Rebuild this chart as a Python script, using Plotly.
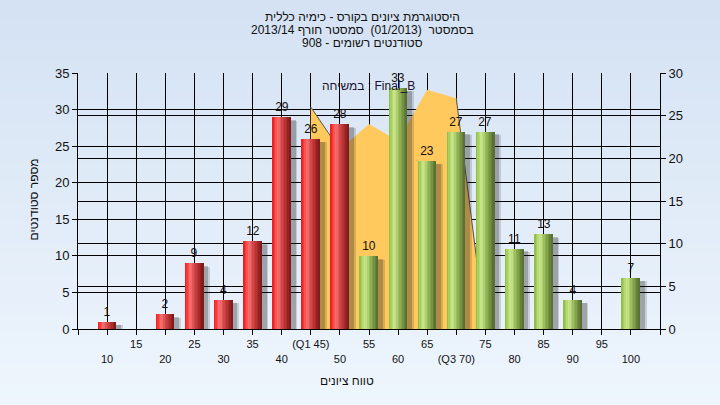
import plotly.graph_objects as go

# ---------------- data ----------------
categories = [10, 15, 20, 25, 30, 35, 40, 45, 50, 55, 60, 65, 70, 75, 80, 85, 90, 95, 100]
counts = [1, 0, 2, 9, 4, 12, 29, 26, 28, 10, 33, 23, 27, 27, 11, 13, 4, 0, 7]
tick_labels = ['10', '15', '20', '25', '30', '35', '40', '(Q1 45)', '50', '55', '60', '65',
               '(Q3 70)', '75', '80', '85', '90', '95', '100']
final_b_x = [45, 50, 55, 60, 65, 70, 75]
final_b_y = [26, 21, 24, 22, 28, 27, 0]
pass_mark = 55

title_lines = ['היסטוגרמת ציונים בקורס - כימיה כללית',
               'בסמסטר  (01/2013)  סמסטר חורף 2013/14',
               'סטודנטים רשומים - 908']
y_title = 'מספר סטודנטים'
x_title = 'טווח ציונים'
legend_text = 'במשיחה : Final_B'

# ---------------- style ----------------
FONT = 'Liberation Sans, Arial, DejaVu Sans, sans-serif'
W = 3.1          # bar width in x units
NSTRIP = 12
ML, MR, MT, MB = 78, 60, 73, 76
FW, FH = 720, 405
PW, PH = FW - ML - MR, FH - MT - MB

red_stops = [(0.0, (222, 28, 34)), (0.12, (255, 52, 52)), (0.32, (246, 118, 118)),
             (0.52, (214, 72, 72)), (0.78, (172, 44, 44)), (1.0, (120, 24, 24))]
green_stops = [(0.0, (138, 182, 68)), (0.12, (166, 206, 92)), (0.32, (204, 232, 146)),
               (0.52, (160, 194, 96)), (0.78, (118, 148, 68)), (1.0, (82, 106, 44))]


def grad(stops, t):
    for (t0, c0), (t1, c1) in zip(stops[:-1], stops[1:]):
        if t0 <= t <= t1:
            f = (t - t0) / (t1 - t0) if t1 > t0 else 0
            c = [round(a + (b - a) * f) for a, b in zip(c0, c1)]
            return 'rgb(%d,%d,%d)' % tuple(c)
    return 'rgb(%d,%d,%d)' % stops[-1][1]


def bar_colors(t):
    return [grad(red_stops, t) if c < pass_mark else grad(green_stops, t) for c in categories]


def px_x(px):
    return (px - ML) / PW


def px_y(py):
    return (FH - MB - py) / PH


fig = go.Figure()

# background gradient (paper)
nb = 40
for i in range(nb):
    f = i / (nb - 1)
    r = round(212 + (238 - 212) * f)
    g = round(226 + (245 - 226) * f)
    b = round(243 + (253 - 243) * f)
    y_top = i * FH / nb
    y_bot = (i + 1) * FH / nb + 1
    fig.add_shape(type='rect', xref='paper', yref='paper', layer='below',
                  x0=px_x(0), x1=px_x(FW), y0=px_y(y_bot), y1=px_y(y_top),
                  line=dict(width=0), fillcolor='rgb(%d,%d,%d)' % (r, g, b))

# Final_B area (right axis)
fig.add_trace(go.Scatter(x=final_b_x, y=final_b_y, mode='lines', fill='tozeroy',
                         fillcolor='#ffc95e', line=dict(color='#ffc95e', width=0.5),
                         yaxis='y', hoverinfo='skip', showlegend=False))
# dark edges on steep drops
ex, ey = [], []
for i in range(len(final_b_x) - 1):
    if final_b_y[i] - final_b_y[i + 1] >= 4:
        ex += [final_b_x[i], final_b_x[i + 1], None]
        ey += [final_b_y[i], final_b_y[i + 1], None]
fig.add_trace(go.Scatter(x=ex, y=ey, mode='lines', line=dict(color='#555555', width=1),
                         yaxis='y', hoverinfo='skip', showlegend=False))

# shadows
for dx, dy, alpha in [(1.15, 0.5, 0.16), (0.85, 0.4, 0.24)]:
    fig.add_trace(go.Bar(x=categories, y=[max(v - dy, 0) if v > 0 else 0 for v in counts],
                         width=W, offset=-W / 2 + dx, yaxis='y2',
                         marker=dict(color='rgba(30,30,30,%.2f)' % alpha, line=dict(width=0)),
                         hoverinfo='skip', showlegend=False))

# base bar with labels
fig.add_trace(go.Bar(x=categories, y=counts, width=W, offset=-W / 2, yaxis='y2',
                     marker=dict(color=bar_colors(0.55), line=dict(width=0)),
                     text=[str(v) if v > 0 else '' for v in counts],
                     textposition='outside', cliponaxis=False, constraintext='none',
                     textfont=dict(family=FONT, size=12, color='#111111'),
                     hoverinfo='skip', showlegend=False))

# cylinder gradient strips
sw = W / NSTRIP
for k in range(NSTRIP):
    t = (k + 0.5) / NSTRIP
    fig.add_trace(go.Bar(x=categories, y=counts, width=sw * 1.08, offset=-W / 2 + k * sw,
                         yaxis='y2', marker=dict(color=bar_colors(t), line=dict(width=0)),
                         hoverinfo='skip', showlegend=False))

xt_vals = [categories[0] - 5] + categories + [categories[-1] + 5]
xt_text = [''] + [lab if i % 2 == 1 else '<br>' + lab for i, lab in enumerate(tick_labels)] + ['']

axis_common = dict(showline=True, linecolor='black', linewidth=1, ticks='outside',
                   ticklen=5, tickcolor='black', showgrid=True, gridcolor='black',
                   gridwidth=1, zeroline=False,
                   tickfont=dict(family=FONT, size=13, color='#111111'))

txt_font = dict(family=FONT, size=12, color='#111111')

annotations = [
    dict(text=y_title, xref='paper', yref='paper', x=px_x(33.5), y=px_y(200),
         xanchor='center', yanchor='middle', textangle=-90, showarrow=False, font=txt_font),
    dict(text=x_title, xref='paper', yref='paper', x=px_x(347), y=px_y(381),
         xanchor='center', yanchor='middle', showarrow=False, font=txt_font),
    dict(text=legend_text, xref='paper', yref='paper', x=px_x(368), y=px_y(85.5),
         xanchor='center', yanchor='middle', showarrow=False,
         font=dict(family=FONT, size=12, color='#1a1030')),
]
# chart title: three centred lines
for i, line in enumerate(title_lines):
    annotations.append(dict(text=line, xref='paper', yref='paper', x=px_x(362),
                            y=px_y(17 + 13 * i), xanchor='center', yanchor='middle',
                            showarrow=False, font=txt_font))

fig.update_layout(
    width=FW, height=FH,
    margin=dict(l=ML, r=MR, t=MT, b=MB, pad=0, autoexpand=False),
    paper_bgcolor='#e2ecf8', plot_bgcolor='#b4b4b4',
    barmode='overlay', bargap=0,
    showlegend=False,
    font=dict(family=FONT, size=12, color='#111111'),
    xaxis=dict(range=[xt_vals[0], xt_vals[-1]], tickmode='array', tickvals=xt_vals,
               ticktext=xt_text, showline=True, linecolor='black', ticks='outside',
               ticklen=5, tickcolor='black', showgrid=True, gridcolor='black', gridwidth=1,
               zeroline=False, tickfont=dict(family=FONT, size=11, color='#111111')),
    yaxis=dict(range=[0, 30], dtick=5, side='right', **axis_common),
    yaxis2=dict(range=[0, 35], dtick=5, side='left', overlaying='y', **axis_common),
    annotations=annotations,
)

fig.write_html('out.html', config={'displayModeBar': False},
               post_script="document.body.style.margin='0';")
